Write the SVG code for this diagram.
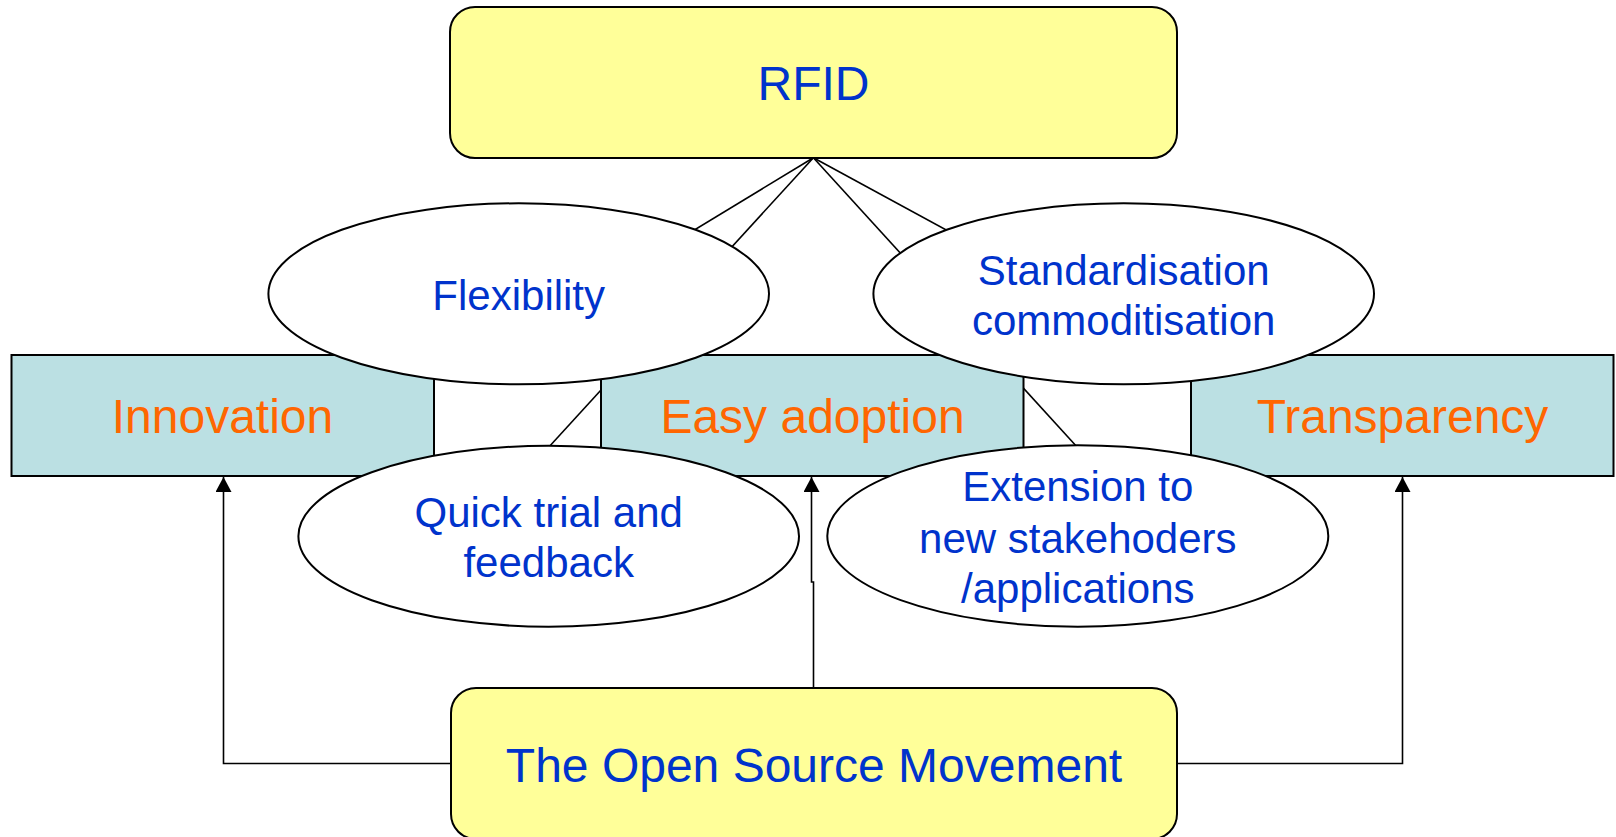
<svg xmlns="http://www.w3.org/2000/svg" width="1616" height="837" viewBox="0 0 1616 837">
<style>
  text { font-family: "Liberation Sans", Arial, sans-serif; text-anchor: middle; }
  .yellow { fill: #FFFF99; stroke: #000; stroke-width: 2; }
  .cyan { fill: #BBE0E3; stroke: #000; stroke-width: 2; }
  .oval { fill: #FFFFFF; stroke: #000; stroke-width: 2; }
  .blue { fill: #0033CC; font-size: 42px; }
  .blue48 { fill: #0033CC; font-size: 48px; }
  .orange { fill: #FF6600; font-size: 48px; }
  .line { fill: none; stroke: #000; stroke-width: 1.6; }
</style>
<defs>
  <marker id="arrow" markerUnits="userSpaceOnUse" markerWidth="16" markerHeight="16" viewBox="0 0 16 16" refX="15" refY="8" orient="auto">
    <path d="M0,0 L15,8 L0,16 Z" fill="#000"/>
  </marker>
</defs>
<rect width="1616" height="837" fill="#FFFFFF"/>
<g id="connectors">
  <line class="line" x1="813.4" y1="157.7" x2="579" y2="300"/>
  <line class="line" x1="813.4" y1="157.7" x2="548" y2="448"/>
  <line class="line" x1="813.4" y1="157.7" x2="1078" y2="448"/>
  <line class="line" x1="813.4" y1="157.7" x2="1075" y2="300"/>
  <path class="line" d="M451,763.5 H223.5 V477" marker-end="url(#arrow)"/>
  <path class="line" d="M1177,763.5 H1402.5 V477" marker-end="url(#arrow)"/>
  <path class="line" d="M813.5,688 V582 H811.5 V477" marker-end="url(#arrow)"/>
</g>
<g id="rfid">
  <rect class="yellow" x="450" y="7" width="727" height="151" rx="25" ry="25"/>
  <text class="blue48" x="813.5" y="99.5">RFID</text>
</g>
<g id="innovation">
  <rect class="cyan" x="11.5" y="355" width="422.5" height="121"/>
  <text class="orange" x="222.5" y="433">Innovation</text>
</g>
<g id="easy-adoption">
  <rect class="cyan" x="601" y="355" width="422.5" height="121"/>
  <text class="orange" x="812.5" y="433">Easy adoption</text>
</g>
<g id="transparency">
  <rect class="cyan" x="1191" y="355" width="422.5" height="121"/>
  <text class="orange" x="1402.5" y="433">Transparency</text>
</g>
<g id="flexibility">
  <ellipse class="oval" cx="518.7" cy="293.8" rx="250.3" ry="90.5"/>
  <text class="blue" x="518.7" y="310">Flexibility</text>
</g>
<g id="standardisation">
  <ellipse class="oval" cx="1123.7" cy="293.8" rx="250.3" ry="90.5"/>
  <text class="blue" x="1123.7" y="285">Standardisation</text>
  <text class="blue" x="1123.7" y="334.5">commoditisation</text>
</g>
<g id="quick-trial">
  <ellipse class="oval" cx="548.7" cy="536.2" rx="250.3" ry="90.5"/>
  <text class="blue" x="548.7" y="526.7">Quick trial and</text>
  <text class="blue" x="548.7" y="577.3">feedback</text>
</g>
<g id="extension">
  <ellipse class="oval" cx="1077.8" cy="536" rx="250.5" ry="90.7"/>
  <text class="blue" x="1077.8" y="501">Extension to</text>
  <text class="blue" x="1077.8" y="552.5">new stakehoders</text>
  <text class="blue" x="1077.8" y="603.3">/applications</text>
</g>
<g id="open-source">
  <rect class="yellow" x="451" y="688" width="726" height="151" rx="25" ry="25"/>
  <text class="blue48" x="814" y="781.5">The Open Source Movement</text>
</g>
</svg>
